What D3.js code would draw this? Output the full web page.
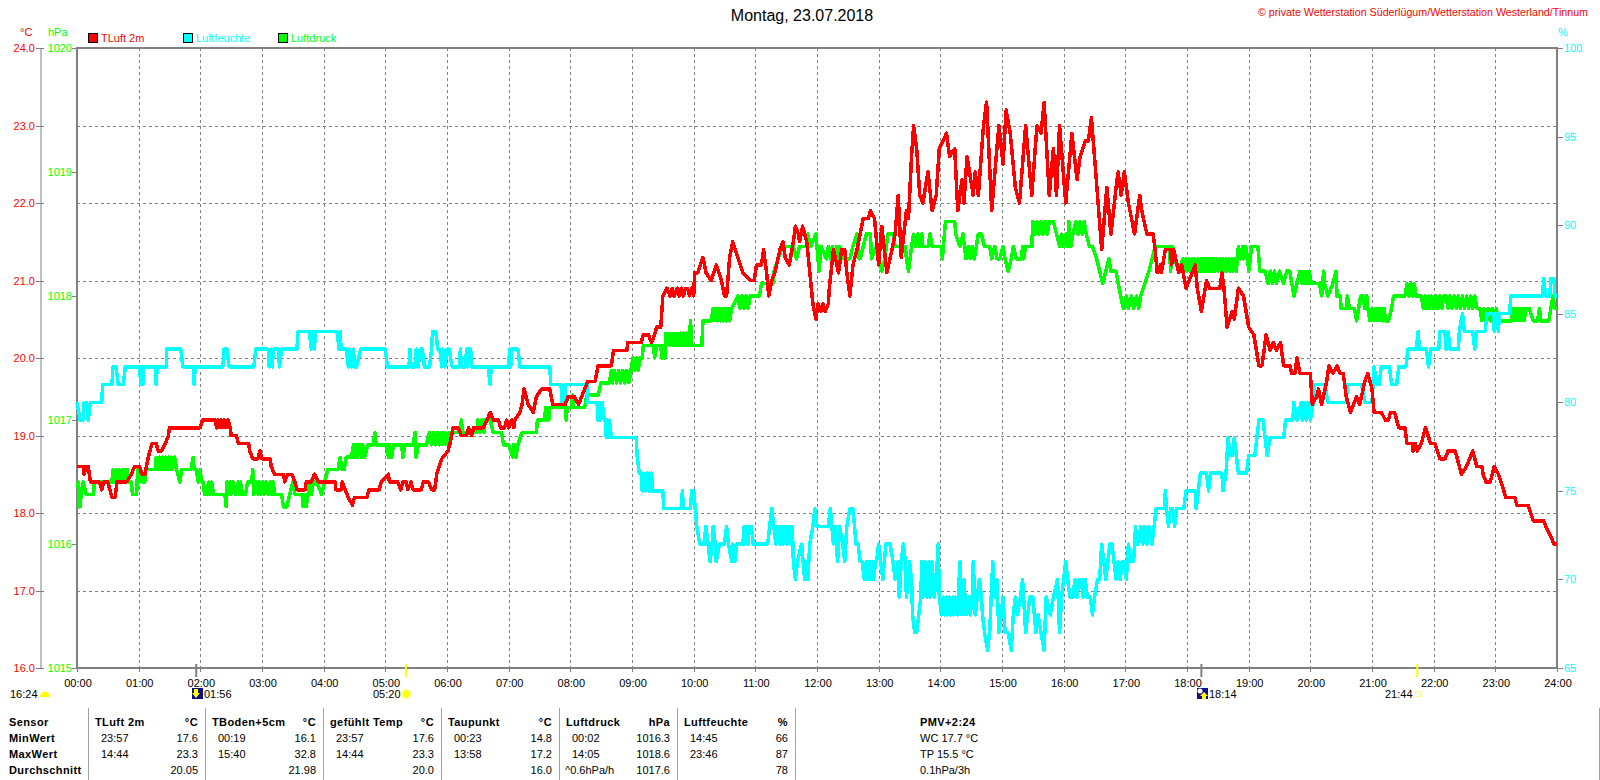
<!DOCTYPE html>
<html>
<head>
<meta charset="utf-8">
<title>Montag, 23.07.2018</title>
<script src="https://cdn.jsdelivr.net/npm/d3@7"></script>
<style>
  body { margin: 0; background: #fff; }
  text { font-family: "Liberation Sans", Arial, sans-serif; font-size: 11px; }
</style>
</head>
<body>
<div id="chart"></div>
<script>
// [minute of day, value]
const tempPoints = [[0,18.6],[6,18.6],[7,18.5],[9,18.6],[11,18.6],[13,18.4],[22,18.4],[24,18.3],[26,18.4],[30,18.4],[34,18.2],[37,18.2],[39,18.4],[48,18.4],[53,18.5],[56,18.6],[61,18.6],[63,18.5],[66,18.5],[69,18.7],[73,18.9],[77,18.9],[79,18.8],[82,18.8],[86,18.9],[89,19.0],[90,19.1],[120,19.1],[122,19.2],[134,19.2],[136,19.1],[137,19.2],[139,19.1],[140,19.2],[142,19.1],[143,19.2],[145,19.1],[147,19.2],[149,19.1],[150,19.0],[155,19.0],[157,18.9],[167,18.9],[168,18.8],[171,18.7],[176,18.7],[178,18.8],[180,18.7],[188,18.7],[189,18.6],[192,18.5],[201,18.5],[202,18.4],[205,18.5],[209,18.5],[212,18.4],[214,18.3],[222,18.3],[223,18.4],[228,18.4],[231,18.5],[235,18.4],[251,18.4],[252,18.3],[257,18.3],[258,18.4],[261,18.3],[264,18.2],[268,18.1],[270,18.2],[282,18.2],[284,18.3],[294,18.3],[296,18.4],[303,18.5],[304,18.4],[312,18.4],[315,18.3],[317,18.4],[320,18.4],[322,18.3],[325,18.4],[327,18.3],[335,18.3],[337,18.4],[342,18.4],[345,18.3],[348,18.3],[350,18.5],[355,18.7],[361,18.8],[363,18.9],[366,19.1],[371,19.1],[374,19.0],[379,19.0],[381,19.1],[384,19.0],[386,19.1],[395,19.1],[399,19.2],[402,19.3],[405,19.2],[410,19.2],[412,19.1],[416,19.1],[418,19.2],[420,19.1],[423,19.2],[425,19.1],[426,19.2],[431,19.3],[433,19.4],[435,19.6],[439,19.4],[444,19.3],[447,19.5],[452,19.6],[460,19.6],[463,19.4],[475,19.4],[478,19.5],[484,19.5],[488,19.4],[491,19.5],[494,19.6],[497,19.7],[504,19.7],[507,19.9],[520,19.9],[522,20.1],[535,20.1],[536,20.2],[549,20.2],[551,20.3],[556,20.3],[559,20.2],[562,20.3],[564,20.4],[568,20.4],[570,20.8],[574,20.9],[577,20.8],[579,20.9],[581,20.8],[584,20.9],[586,20.8],[588,20.9],[590,20.8],[592,20.9],[594,20.9],[596,20.8],[598,20.9],[600,20.8],[601,21.1],[604,21.1],[609,21.3],[612,21.1],[617,21.0],[622,21.2],[627,21.0],[630,20.8],[632,20.8],[635,21.3],[638,21.5],[643,21.3],[648,21.1],[655,21.0],[659,21.0],[661,21.2],[666,21.2],[668,21.4],[671,21.1],[673,20.8],[676,21.0],[679,21.1],[684,21.4],[687,21.5],[689,21.3],[693,21.2],[697,21.5],[699,21.7],[702,21.6],[703,21.5],[706,21.7],[710,21.5],[713,21.1],[716,20.7],[719,20.5],[721,20.7],[724,20.6],[726,20.7],[728,20.6],[731,20.7],[732,20.9],[736,21.4],[741,21.1],[744,21.4],[747,21.4],[749,21.1],[752,20.8],[755,21.2],[759,21.4],[765,21.8],[770,21.8],[772,21.9],[776,21.8],[780,21.2],[783,21.7],[788,21.1],[793,21.4],[796,21.6],[799,22.1],[802,21.3],[807,21.9],[809,21.8],[812,22.6],[814,23.0],[817,22.7],[820,22.1],[823,22.0],[828,22.4],[832,21.9],[836,22.1],[839,22.7],[846,22.9],[849,22.6],[854,22.7],[857,21.9],[861,22.3],[863,22.0],[866,22.6],[872,22.1],[874,22.4],[877,22.1],[882,23.0],[885,23.3],[890,21.9],[895,22.7],[897,23.0],[901,22.5],[904,23.2],[908,22.9],[913,22.2],[917,22.0],[923,23.0],[929,22.1],[934,23.0],[938,22.9],[941,23.3],[946,22.1],[950,22.7],[953,22.1],[956,23.0],[962,22.0],[968,22.9],[973,22.3],[976,22.6],[981,22.8],[984,22.8],[987,23.1],[990,22.6],[997,21.4],[1002,22.2],[1006,21.6],[1011,22.2],[1013,22.4],[1016,22.1],[1019,22.4],[1023,22.0],[1029,21.6],[1034,22.1],[1036,21.9],[1041,21.6],[1047,21.6],[1049,21.4],[1051,21.1],[1054,21.2],[1055,21.1],[1059,21.4],[1064,21.4],[1065,21.2],[1067,21.4],[1072,21.1],[1075,21.2],[1079,20.9],[1085,21.1],[1088,21.2],[1090,20.9],[1094,20.6],[1099,21.0],[1102,20.9],[1112,20.9],[1114,21.1],[1116,20.9],[1119,20.4],[1124,20.6],[1126,20.5],[1130,20.9],[1135,20.8],[1140,20.4],[1145,20.3],[1150,19.9],[1153,19.9],[1157,20.3],[1161,20.1],[1164,20.2],[1167,20.1],[1171,20.2],[1174,19.9],[1180,19.9],[1182,19.8],[1185,19.8],[1187,20.0],[1190,19.8],[1200,19.8],[1202,19.4],[1206,19.5],[1208,19.6],[1211,19.4],[1216,19.7],[1218,19.9],[1222,19.8],[1226,19.9],[1229,19.8],[1232,19.8],[1235,19.5],[1239,19.3],[1242,19.4],[1245,19.5],[1248,19.4],[1253,19.7],[1256,19.8],[1260,19.6],[1262,19.3],[1269,19.3],[1273,19.2],[1276,19.2],[1278,19.3],[1282,19.3],[1286,19.1],[1292,19.1],[1294,18.9],[1299,18.9],[1300,18.8],[1302,18.9],[1304,18.8],[1308,18.9],[1312,19.1],[1317,18.9],[1321,18.9],[1326,18.7],[1331,18.7],[1334,18.8],[1341,18.8],[1347,18.5],[1352,18.6],[1358,18.8],[1362,18.6],[1367,18.6],[1368,18.5],[1371,18.4],[1375,18.4],[1379,18.6],[1383,18.5],[1388,18.3],[1390,18.2],[1399,18.2],[1401,18.1],[1412,18.1],[1417,17.9],[1427,17.9],[1430,17.8],[1434,17.7],[1437,17.6],[1440,17.6]];

const humPoints = [[0,80],[3,79],[6,79],[7,80],[9,80],[11,79],[13,80],[24,80],[25,81],[34,81],[35,82],[38,82],[40,81],[45,81],[47,82],[61,82],[62,81],[63,82],[64,81],[65,82],[76,82],[77,81],[78,82],[87,82],[87,83],[101,83],[103,82],[113,82],[114,81],[115,82],[142,82],[143,83],[146,83],[148,82],[172,82],[174,83],[186,83],[187,82],[189,83],[190,82],[191,83],[196,83],[197,82],[199,83],[214,83],[215,84],[226,84],[228,83],[230,84],[231,83],[232,84],[253,84],[255,83],[256,84],[257,83],[262,83],[264,82],[265,83],[267,82],[269,83],[270,82],[272,82],[276,83],[300,83],[302,82],[323,82],[324,83],[325,82],[329,82],[330,83],[332,82],[334,83],[336,83],[338,82],[343,82],[345,83],[346,84],[349,84],[351,83],[353,83],[355,82],[356,83],[358,82],[360,83],[362,83],[365,82],[372,82],[373,83],[374,82],[378,82],[379,83],[380,82],[381,83],[383,83],[384,82],[400,82],[402,81],[403,82],[420,82],[421,83],[422,82],[423,83],[429,83],[431,82],[460,82],[461,81],[471,81],[472,80],[475,80],[475,81],[496,81],[497,80],[506,80],[507,79],[508,80],[509,79],[511,80],[513,79],[514,79],[515,78],[516,79],[517,78],[518,79],[520,78],[544,78],[545,77],[547,76],[549,76],[550,75],[551,76],[553,75],[554,76],[556,75],[557,76],[558,75],[559,76],[560,75],[570,75],[571,74],[588,74],[589,75],[590,74],[597,74],[598,75],[600,75],[603,73],[606,72],[610,72],[612,73],[614,72],[616,71],[618,72],[619,73],[621,72],[622,71],[625,72],[630,72],[632,73],[634,72],[637,71],[638,72],[640,71],[642,72],[648,72],[649,73],[650,72],[651,73],[653,72],[654,73],[656,73],[658,72],[672,72],[674,73],[676,74],[678,73],[680,72],[682,73],[684,72],[685,73],[687,72],[689,73],[691,72],[693,73],[695,72],[696,73],[697,71],[699,70],[701,71],[705,72],[708,70],[710,71],[711,70],[713,72],[716,73],[718,74],[720,73],[731,73],[733,74],[736,72],[738,73],[740,71],[742,73],[745,72],[747,71],[749,73],[752,74],[755,74],[758,72],[760,72],[762,71],[764,71],[766,70],[768,71],[769,70],[771,71],[772,70],[774,71],[775,70],[777,71],[778,71],[780,72],[782,71],[784,70],[787,72],[791,72],[794,71],[796,70],[799,71],[800,69],[802,71],[804,72],[806,71],[807,69],[809,70],[810,71],[812,70],[813,68],[815,67],[817,67],[819,68],[821,69],[822,71],[823,69],[825,71],[827,69],[829,71],[830,69],[832,71],[834,69],[836,70],[838,72],[839,69],[841,68],[843,69],[844,68],[846,69],[847,68],[849,69],[850,68],[852,69],[853,68],[855,69],[857,68],[859,71],[861,68],[863,70],[865,68],[867,69],[869,68],[871,69],[872,71],[874,68],[876,69],[878,70],[880,69],[881,68],[883,67],[886,66],[888,67],[891,71],[893,69],[895,70],[897,67],[899,68],[901,69],[903,67],[906,67],[909,66],[911,68],[913,69],[915,68],[918,69],[920,70],[923,67],[925,68],[927,69],[930,69],[933,67],[935,68],[938,67],[941,66],[943,69],[947,68],[950,69],[954,70],[956,67],[958,69],[962,71],[964,70],[966,69],[969,69],[971,70],[973,69],[975,70],[977,70],[979,69],[981,70],[983,69],[986,69],[988,68],[990,69],[993,70],[995,70],[997,72],[999,71],[1001,70],[1003,71],[1005,72],[1007,72],[1009,71],[1011,70],[1013,71],[1015,70],[1017,71],[1019,71],[1021,70],[1023,72],[1025,71],[1028,71],[1030,73],[1031,72],[1033,72],[1035,73],[1037,72],[1039,73],[1041,72],[1043,73],[1046,72],[1048,73],[1050,74],[1058,74],[1059,75],[1060,74],[1062,73],[1064,74],[1066,74],[1068,73],[1070,74],[1077,74],[1079,75],[1088,75],[1089,74],[1091,75],[1093,76],[1099,76],[1101,75],[1103,76],[1114,76],[1115,75],[1118,76],[1120,78],[1122,77],[1124,77],[1126,78],[1128,77],[1130,76],[1138,76],[1140,77],[1146,77],[1148,78],[1150,79],[1154,79],[1156,78],[1158,77],[1161,78],[1174,78],[1176,79],[1183,79],[1184,80],[1187,79],[1191,80],[1192,79],[1194,80],[1196,79],[1198,80],[1200,79],[1203,80],[1204,81],[1214,81],[1217,80],[1235,80],[1236,81],[1250,81],[1253,80],[1260,80],[1262,82],[1265,81],[1267,81],[1269,82],[1277,82],[1279,81],[1284,81],[1286,82],[1293,82],[1295,83],[1303,83],[1305,84],[1306,83],[1313,83],[1315,82],[1317,83],[1325,83],[1326,84],[1331,84],[1332,83],[1334,84],[1336,83],[1344,83],[1345,84],[1348,85],[1350,84],[1358,84],[1360,83],[1362,84],[1370,84],[1372,85],[1378,85],[1379,84],[1381,85],[1383,84],[1384,85],[1394,85],[1395,86],[1426,86],[1427,87],[1429,86],[1433,86],[1434,87],[1437,87],[1438,86],[1440,86]];

const pressPoints = [[0,1016.5],[1,1016.5],[2,1016.3],[3,1016.3],[4,1016.4],[6,1016.5],[9,1016.4],[16,1016.4],[17,1016.5],[34,1016.5],[35,1016.6],[37,1016.5],[38,1016.6],[40,1016.5],[41,1016.6],[43,1016.5],[44,1016.6],[46,1016.5],[47,1016.6],[49,1016.6],[50,1016.5],[53,1016.5],[54,1016.4],[58,1016.4],[59,1016.6],[61,1016.5],[62,1016.6],[64,1016.5],[66,1016.5],[67,1016.6],[76,1016.6],[77,1016.7],[78,1016.6],[80,1016.7],[81,1016.6],[83,1016.7],[84,1016.6],[86,1016.7],[87,1016.6],[89,1016.7],[90,1016.6],[92,1016.7],[93,1016.6],[95,1016.7],[97,1016.6],[100,1016.5],[102,1016.6],[111,1016.6],[113,1016.7],[114,1016.6],[116,1016.6],[118,1016.5],[120,1016.6],[121,1016.5],[123,1016.5],[124,1016.4],[126,1016.4],[128,1016.5],[129,1016.4],[131,1016.5],[133,1016.4],[144,1016.4],[145,1016.3],[146,1016.5],[147,1016.4],[149,1016.5],[150,1016.4],[152,1016.5],[154,1016.4],[157,1016.5],[158,1016.4],[159,1016.5],[161,1016.4],[164,1016.4],[166,1016.5],[170,1016.5],[171,1016.6],[172,1016.4],[174,1016.5],[176,1016.4],[177,1016.5],[179,1016.4],[181,1016.5],[182,1016.4],[184,1016.5],[186,1016.4],[188,1016.5],[189,1016.4],[191,1016.5],[192,1016.4],[199,1016.4],[201,1016.3],[204,1016.3],[207,1016.4],[210,1016.5],[212,1016.4],[217,1016.4],[219,1016.4],[220,1016.3],[222,1016.4],[223,1016.3],[225,1016.4],[226,1016.5],[228,1016.4],[230,1016.5],[233,1016.5],[238,1016.4],[241,1016.5],[244,1016.6],[254,1016.6],[256,1016.7],[258,1016.6],[260,1016.6],[262,1016.7],[267,1016.7],[269,1016.8],[270,1016.7],[272,1016.8],[273,1016.7],[275,1016.8],[277,1016.7],[278,1016.8],[280,1016.7],[283,1016.8],[288,1016.8],[290,1016.9],[291,1016.8],[301,1016.8],[303,1016.7],[304,1016.8],[306,1016.7],[308,1016.8],[316,1016.8],[317,1016.7],[319,1016.8],[327,1016.8],[329,1016.9],[330,1016.7],[332,1016.8],[340,1016.8],[343,1016.9],[345,1016.8],[347,1016.9],[349,1016.8],[351,1016.9],[353,1016.8],[355,1016.9],[356,1016.8],[358,1016.9],[360,1016.8],[362,1016.9],[373,1016.9],[374,1017.0],[375,1016.9],[389,1016.9],[390,1017.0],[392,1016.9],[394,1017.0],[396,1016.9],[397,1017.0],[402,1017.0],[405,1016.9],[413,1016.9],[415,1016.8],[420,1016.8],[424,1016.7],[425,1016.8],[427,1016.7],[429,1016.8],[433,1016.9],[447,1016.9],[448,1017.0],[455,1017.0],[456,1017.1],[457,1017.0],[458,1017.1],[459,1017.0],[460,1017.1],[475,1017.1],[476,1017.0],[477,1017.1],[481,1017.1],[482,1017.2],[483,1017.1],[494,1017.1],[496,1017.2],[507,1017.2],[510,1017.3],[518,1017.3],[520,1017.4],[521,1017.3],[523,1017.4],[525,1017.3],[527,1017.4],[529,1017.3],[531,1017.4],[533,1017.3],[535,1017.4],[537,1017.3],[539,1017.4],[541,1017.5],[543,1017.4],[545,1017.5],[546,1017.4],[548,1017.5],[550,1017.5],[551,1017.6],[561,1017.6],[562,1017.5],[564,1017.6],[568,1017.6],[569,1017.5],[571,1017.6],[572,1017.5],[573,1017.7],[574,1017.6],[575,1017.7],[577,1017.6],[578,1017.7],[580,1017.6],[581,1017.7],[583,1017.6],[584,1017.7],[586,1017.6],[587,1017.7],[589,1017.6],[590,1017.7],[592,1017.6],[593,1017.7],[595,1017.6],[597,1017.8],[598,1017.6],[608,1017.6],[609,1017.8],[617,1017.8],[619,1017.9],[620,1017.8],[622,1017.9],[623,1017.8],[625,1017.9],[626,1017.8],[628,1017.9],[629,1017.8],[631,1017.9],[632,1017.8],[634,1017.9],[635,1017.8],[637,1017.9],[643,1018.0],[645,1017.9],[647,1018.0],[649,1017.9],[651,1018.0],[653,1017.9],[655,1018.0],[664,1018.0],[666,1018.1],[677,1018.1],[678,1018.2],[682,1018.3],[687,1018.4],[697,1018.4],[700,1018.3],[703,1018.4],[710,1018.4],[711,1018.5],[714,1018.4],[719,1018.5],[722,1018.2],[724,1018.4],[729,1018.3],[731,1018.4],[733,1018.3],[735,1018.4],[737,1018.3],[739,1018.4],[741,1018.3],[742,1018.4],[746,1018.3],[752,1018.3],[755,1018.4],[759,1018.5],[761,1018.3],[762,1018.3],[765,1018.4],[768,1018.5],[772,1018.5],[773,1018.3],[778,1018.4],[780,1018.3],[783,1018.2],[786,1018.3],[789,1018.5],[794,1018.5],[796,1018.4],[806,1018.4],[807,1018.3],[809,1018.2],[812,1018.4],[814,1018.5],[816,1018.4],[818,1018.5],[820,1018.4],[822,1018.5],[823,1018.4],[828,1018.4],[830,1018.5],[832,1018.4],[841,1018.4],[842,1018.3],[844,1018.5],[845,1018.6],[854,1018.6],[855,1018.5],[859,1018.4],[862,1018.5],[865,1018.3],[867,1018.4],[869,1018.3],[871,1018.4],[873,1018.3],[875,1018.4],[877,1018.5],[880,1018.5],[883,1018.4],[888,1018.4],[890,1018.3],[893,1018.4],[895,1018.3],[898,1018.3],[901,1018.4],[903,1018.3],[906,1018.2],[909,1018.3],[911,1018.4],[914,1018.3],[919,1018.3],[920,1018.4],[921,1018.3],[923,1018.4],[929,1018.4],[930,1018.6],[932,1018.5],[934,1018.6],[936,1018.5],[938,1018.6],[940,1018.5],[942,1018.6],[944,1018.5],[946,1018.6],[950,1018.6],[953,1018.5],[956,1018.4],[958,1018.5],[960,1018.4],[962,1018.5],[964,1018.4],[965,1018.6],[967,1018.4],[969,1018.5],[972,1018.6],[974,1018.5],[976,1018.6],[978,1018.5],[980,1018.6],[982,1018.5],[985,1018.4],[988,1018.4],[992,1018.3],[995,1018.2],[998,1018.1],[1001,1018.2],[1004,1018.3],[1006,1018.2],[1011,1018.2],[1013,1018.1],[1018,1017.9],[1021,1018.0],[1023,1017.9],[1026,1018.0],[1028,1017.9],[1031,1018.0],[1033,1017.9],[1035,1018.0],[1039,1018.1],[1043,1018.2],[1046,1018.3],[1049,1018.4],[1063,1018.4],[1064,1018.2],[1066,1018.4],[1068,1018.3],[1072,1018.2],[1076,1018.3],[1077,1018.2],[1079,1018.3],[1080,1018.2],[1082,1018.3],[1083,1018.2],[1085,1018.3],[1086,1018.2],[1088,1018.3],[1089,1018.2],[1091,1018.3],[1092,1018.2],[1094,1018.3],[1095,1018.2],[1097,1018.3],[1098,1018.2],[1100,1018.3],[1101,1018.2],[1103,1018.3],[1104,1018.2],[1106,1018.3],[1107,1018.2],[1109,1018.3],[1110,1018.2],[1112,1018.3],[1113,1018.2],[1115,1018.3],[1116,1018.2],[1118,1018.3],[1119,1018.2],[1121,1018.3],[1122,1018.2],[1124,1018.3],[1125,1018.2],[1127,1018.3],[1128,1018.2],[1130,1018.4],[1132,1018.3],[1134,1018.4],[1135,1018.3],[1137,1018.4],[1139,1018.3],[1140,1018.2],[1143,1018.4],[1149,1018.4],[1151,1018.2],[1156,1018.2],[1159,1018.1],[1161,1018.2],[1163,1018.1],[1165,1018.2],[1167,1018.1],[1170,1018.2],[1174,1018.1],[1177,1018.2],[1180,1018.2],[1182,1018.1],[1184,1018.0],[1187,1018.1],[1190,1018.2],[1192,1018.1],[1193,1018.2],[1195,1018.1],[1196,1018.2],[1198,1018.1],[1199,1018.2],[1201,1018.1],[1209,1018.1],[1211,1018.0],[1213,1018.2],[1214,1018.1],[1217,1018.0],[1222,1018.1],[1225,1018.2],[1226,1018.0],[1229,1018.0],[1230,1017.9],[1235,1017.9],[1236,1018.0],[1238,1017.9],[1243,1017.9],[1245,1017.8],[1249,1018.0],[1251,1018.0],[1253,1017.9],[1254,1018.0],[1255,1018.0],[1256,1017.9],[1258,1017.8],[1260,1017.9],[1261,1017.8],[1263,1017.9],[1264,1017.8],[1266,1017.9],[1267,1017.8],[1269,1017.9],[1270,1017.8],[1272,1017.9],[1273,1017.8],[1276,1017.8],[1279,1017.9],[1281,1018.0],[1292,1018.0],[1294,1018.1],[1296,1018.0],[1298,1018.1],[1300,1018.0],[1301,1018.1],[1303,1018.0],[1308,1018.0],[1310,1017.9],[1312,1018.0],[1313,1017.9],[1315,1018.0],[1316,1017.9],[1318,1018.0],[1320,1017.9],[1322,1018.0],[1324,1017.9],[1326,1018.0],[1328,1017.9],[1330,1018.0],[1332,1018.0],[1334,1017.9],[1336,1018.0],[1338,1017.9],[1340,1018.0],[1342,1017.9],[1344,1018.0],[1346,1017.9],[1348,1018.0],[1350,1017.9],[1352,1018.0],[1354,1017.9],[1356,1018.0],[1358,1017.9],[1360,1018.0],[1362,1017.9],[1365,1017.9],[1367,1017.8],[1369,1017.9],[1371,1017.8],[1373,1017.9],[1375,1017.8],[1377,1017.9],[1379,1017.8],[1381,1017.9],[1383,1017.8],[1396,1017.8],[1397,1017.9],[1398,1017.8],[1399,1017.9],[1400,1017.8],[1401,1017.9],[1402,1017.8],[1403,1017.9],[1404,1017.8],[1405,1017.9],[1406,1017.8],[1407,1017.9],[1408,1017.8],[1410,1017.9],[1413,1017.9],[1417,1017.8],[1421,1017.8],[1423,1017.9],[1424,1017.8],[1432,1017.8],[1434,1017.9],[1436,1018.0],[1438,1017.9],[1440,1017.9]];

const hourLabels = d3.range(0, 25).map((h) => String(h).padStart(2, "0") + ":00");
const tempTicks = [16, 17, 18, 19, 20, 21, 22, 23, 24];
const pressTicks = [1015, 1016, 1017, 1018, 1019, 1020];
const humTicks = [65, 70, 75, 80, 85, 90, 95, 100];

const legendNames = ["TLuft 2m", "Luftfeuchte", "Luftdruck"];
const legendColors = ["#ff0000", "#00ffff", "#00ff00"];

const tableHeads = [["TLuft 2m", "°C"], ["TBoden+5cm", "°C"], ["gefühlt Temp", "°C"], ["Taupunkt", "°C"], ["Luftdruck", "hPa"], ["Luftfeuchte", "%"]];
const minRow = [["23:57", "17.6"], ["00:19", "16.1"], ["23:57", "17.6"], ["00:23", "14.8"], ["00:02", "1016.3"], ["14:45", "66"]];
const maxRow = [["14:44", "23.3"], ["15:40", "32.8"], ["14:44", "23.3"], ["13:58", "17.2"], ["14:05", "1018.6"], ["23:46", "87"]];
const avgRow = [["", "20.05"], ["", "21.98"], ["", "20.0"], ["", "16.0"], ["^0.6hPa/h", "1017.6"], ["", "78"]];
const rowNames = ["Sensor", "MinWert", "MaxWert", "Durchschnitt"];
const sideNotes = ["WC 17.7 °C", "TP 15.5 °C", "0.1hPa/3h"];

const width = 1600;
const height = 780;
const left = 77;
const right = 1557;
const top_ = 48;
const bottom = 668;
const gray = "#808080";

const svg = d3.select("#chart").append("svg").attr("width", width).attr("height", height).style("display", "block");

const x = d3.scaleLinear().domain([0, 1440]).range([left, right]);
const yTemp = d3.scaleLinear().domain([16, 24]).range([bottom, top_]);
const yPress = d3.scaleLinear().domain([1015, 1020]).range([bottom, top_]);
const yHum = d3.scaleLinear().domain([65, 100]).range([bottom, top_]);

// dashed grid
svg.append("g").selectAll("line").data(d3.range(1, 24)).enter().append("line")
  .attr("x1", (h) => Math.round(x(h * 60)) + 0.5).attr("x2", (h) => Math.round(x(h * 60)) + 0.5)
  .attr("y1", top_).attr("y2", bottom)
  .attr("stroke", gray).attr("stroke-dasharray", "3,3");
svg.append("g").selectAll("line").data(tempTicks.slice(1, -1)).enter().append("line")
  .attr("x1", left).attr("x2", right)
  .attr("y1", (d) => Math.round(yTemp(d)) + 0.5).attr("y2", (d) => Math.round(yTemp(d)) + 0.5)
  .attr("stroke", gray).attr("stroke-dasharray", "3,3");

// frame
svg.append("rect").attr("x", left).attr("y", top_).attr("width", right - left).attr("height", bottom - top_)
  .attr("fill", "none").attr("stroke", gray).attr("stroke-width", 2);

// hour ticks and labels
svg.append("g").selectAll("line").data(d3.range(0, 25)).enter().append("line")
  .attr("x1", (h) => Math.round(x(h * 60)) + 0.5).attr("x2", (h) => Math.round(x(h * 60)) + 0.5)
  .attr("y1", bottom).attr("y2", bottom + 4).attr("stroke", gray);
svg.append("g").selectAll("text").data(hourLabels).enter().append("text")
  .attr("x", (d, i) => x(i * 60) + 1).attr("y", 687).attr("text-anchor", "middle").text((d) => d);

// left temperature axis
svg.append("line").attr("x1", 41).attr("x2", 41).attr("y1", top_).attr("y2", bottom).attr("stroke", gray);
svg.append("g").selectAll("line").data(tempTicks).enter().append("line")
  .attr("x1", 36).attr("x2", 44).attr("y1", (d) => Math.round(yTemp(d)) + 0.5).attr("y2", (d) => Math.round(yTemp(d)) + 0.5)
  .attr("stroke", gray);
svg.append("g").selectAll("text").data(tempTicks).enter().append("text")
  .attr("x", 35).attr("y", (d) => yTemp(d) + 4).attr("text-anchor", "end").attr("fill", "#ff0000")
  .text((d) => d.toFixed(1));

// pressure axis
svg.append("g").selectAll("line").data(pressTicks).enter().append("line")
  .attr("x1", 72).attr("x2", left).attr("y1", (d) => Math.round(yPress(d)) + 0.5).attr("y2", (d) => Math.round(yPress(d)) + 0.5)
  .attr("stroke", gray);
svg.append("g").selectAll("text").data(pressTicks).enter().append("text")
  .attr("x", 72).attr("y", (d) => yPress(d) + 4).attr("text-anchor", "end").attr("fill", "#00ff00")
  .text((d) => d);

// humidity axis
svg.append("g").selectAll("line").data(humTicks).enter().append("line")
  .attr("x1", right).attr("x2", right + 6).attr("y1", (d) => Math.round(yHum(d)) + 0.5).attr("y2", (d) => Math.round(yHum(d)) + 0.5)
  .attr("stroke", gray);
svg.append("g").selectAll("text").data(humTicks).enter().append("text")
  .attr("x", right + 7).attr("y", (d) => yHum(d) + 4).attr("fill", "#00ffff")
  .text((d) => d);

// units
svg.append("text").attr("x", 20).attr("y", 36).attr("fill", "#ff0000").text("°C");
svg.append("text").attr("x", 48).attr("y", 36).attr("fill", "#00ff00").text("hPa");
svg.append("text").attr("x", 1558).attr("y", 36).attr("fill", "#00ffff").text("%");

// legend
const legendX = [88, 183, 278];
legendNames.forEach((name, i) => {
  svg.append("rect").attr("x", legendX[i] + 0.5).attr("y", 33.5).attr("width", 9).attr("height", 9)
    .attr("fill", legendColors[i]).attr("stroke", "#000");
  svg.append("text").attr("x", legendX[i] + 13).attr("y", 42).attr("fill", legendColors[i]).text(name);
});

// title and credit
svg.append("text").attr("x", 802).attr("y", 21).attr("text-anchor", "middle").style("font-size", "16px").attr("fill", "#000")
  .text("Montag, 23.07.2018");
svg.append("text").attr("x", 1588).attr("y", 16).attr("text-anchor", "end").style("font-size", "10.7px").attr("fill", "#ff0000")
  .text("© private Wetterstation Süderlügum/Wetterstation Westerland/Tinnum");

// series
const line = (yScale) => d3.line().x((d) => x(d[0])).y((d) => yScale(d[1]));
const drawSeries = (pts, yScale, color) =>
  svg.append("path").datum(pts).attr("d", line(yScale)).attr("fill", "none")
    .attr("stroke", color).attr("stroke-width", 3.5).attr("stroke-linejoin", "round").attr("shape-rendering", "crispEdges");
drawSeries(pressPoints, yPress, "#00ff00");
drawSeries(humPoints, yHum, "#00ffff");
drawSeries(tempPoints, yTemp, "#ff0000");

// moon and sun markers under the axis
const markerMin = [116, 320, 1094, 1304];
const markerColor = [gray, "#ffff00", gray, "#ffff00"];
svg.append("g").selectAll("line").data(markerMin).enter().append("line")
  .attr("x1", (d) => x(d)).attr("x2", (d) => x(d)).attr("y1", 664).attr("y2", 677)
  .attr("stroke", (d, i) => markerColor[i]).attr("stroke-width", 2);

svg.append("text").attr("x", 10).attr("y", 698).text("16:24");
svg.append("path").attr("d", "M40,697 a5,5.5 0 0 1 10,0 z").attr("fill", "#ffff00");

svg.append("rect").attr("x", 192).attr("y", 688).attr("width", 11).attr("height", 11).attr("fill", "#101080");
svg.append("path").attr("d", "M194,689h4v4h2l-4,5l-4,-5h2z").attr("fill", "#ffff00");
svg.append("text").attr("x", 204).attr("y", 698).text("01:56");

svg.append("text").attr("x", 373).attr("y", 698).text("05:20");
svg.append("circle").attr("cx", 406).attr("cy", 694).attr("r", 5.5).attr("fill", "#ffffa0");
svg.append("circle").attr("cx", 406).attr("cy", 694).attr("r", 3.5).attr("fill", "#ffff00");

svg.append("rect").attr("x", 1197).attr("y", 688).attr("width", 11).attr("height", 11).attr("fill", "#101080");
svg.append("circle").attr("cx", 1200).attr("cy", 691).attr("r", 2.5).attr("fill", "#fff");
svg.append("path").attr("d", "M1204,692l4,4h-2v3h-4v-3h-2z").attr("fill", "#ffff00");
svg.append("text").attr("x", 1209).attr("y", 698).text("18:14");

svg.append("text").attr("x", 1385).attr("y", 698).text("21:44");
svg.append("rect").attr("x", 1415.5).attr("y", 691.5).attr("width", 5).attr("height", 5).attr("fill", "none").attr("stroke", "#ffff80");

// statistics table
const sepX = [88, 205, 323, 441, 559, 677, 795, 1599];
svg.append("g").selectAll("line").data(sepX).enter().append("line")
  .attr("x1", (d) => d + 0.5).attr("x2", (d) => d + 0.5).attr("y1", 708).attr("y2", 780)
  .attr("stroke", "#a0a0a0");

const rowY = [726, 742, 758, 774];
const bold = (sel) => sel.style("font-weight", "bold").style("letter-spacing", "0.4px");
rowNames.forEach((name, i) => {
  bold(svg.append("text").attr("x", 9).attr("y", rowY[i]).text(name));
});
tableHeads.forEach((head, i) => {
  const sx = sepX[i];
  const nameX = sx + 7;
  const rightX = sepX[i + 1] - 7;
  bold(svg.append("text").attr("x", nameX).attr("y", rowY[0]).text(head[0]));
  bold(svg.append("text").attr("x", rightX).attr("y", rowY[0]).attr("text-anchor", "end").text(head[1]));
  [minRow, maxRow, avgRow].forEach((row, r) => {
    const timeX = row[i][0].startsWith("^") ? nameX - 1 : nameX + 6;
    svg.append("text").attr("x", timeX).attr("y", rowY[r + 1]).text(row[i][0]);
    svg.append("text").attr("x", rightX).attr("y", rowY[r + 1]).attr("text-anchor", "end").text(row[i][1]);
  });
});
bold(svg.append("text").attr("x", 920).attr("y", rowY[0]).text("PMV+2:24"));
sideNotes.forEach((note, i) => {
  svg.append("text").attr("x", 920).attr("y", rowY[i + 1]).text(note);
});
</script>
</body>
</html>
